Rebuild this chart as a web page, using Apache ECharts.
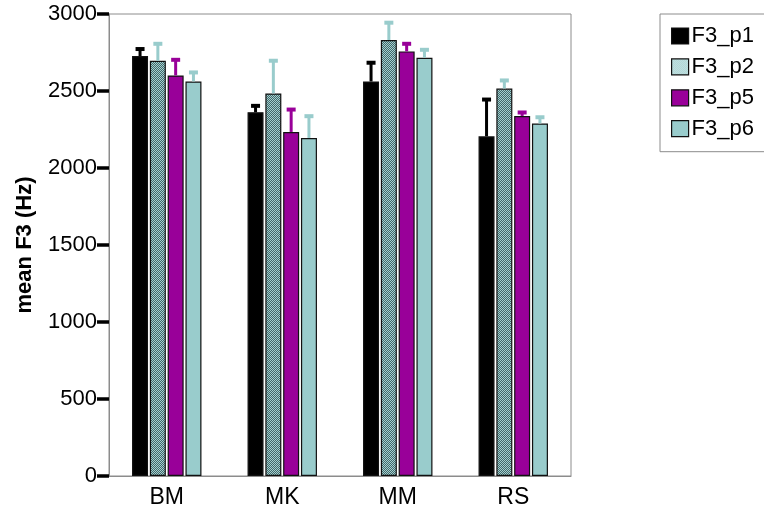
<!DOCTYPE html>
<html>
<head>
<meta charset="utf-8">
<script src="https://cdn.jsdelivr.net/npm/echarts@6/dist/echarts.min.js"></script>
<style>
  html, body { margin: 0; padding: 0; background: #fff; }
  #chart { width: 764px; height: 513px; }
</style>
</head>
<body>
<div id="chart"></div>
<script>
// Speakers on the x axis
var categories = ['BM', 'MK', 'MM', 'RS'];
var seriesNames = ['F3_p1', 'F3_p2', 'F3_p5', 'F3_p6'];

// Mean F3 per speaker (Hz)
var meanP1 = [2727, 2362, 2562, 2206];
var meanP2 = [2696, 2484, 2831, 2516];
var meanP5 = [2601, 2234, 2757, 2338];
var meanP6 = [2562, 2195, 2716, 2289];

// Top of the upper error bar (Hz)
var upperP1 = [2779, 2410, 2690, 2451];
var upperP2 = [2813, 2703, 2950, 2575];
var upperP5 = [2709, 2386, 2813, 2367];
var upperP6 = [2627, 2343, 2774, 2336];

var yTicks = { min: 0, max: 3000, step: 500 };

var means = [meanP1, meanP2, meanP5, meanP6];
var uppers = [upperP1, upperP2, upperP5, upperP6];

// Two-tone checkered fill used for the hatched series
function checker(c1, c2) {
  var cv = document.createElement('canvas');
  cv.width = 2; cv.height = 2;
  var ctx = cv.getContext('2d');
  ctx.fillStyle = c1; ctx.fillRect(0, 0, 2, 2);
  ctx.fillStyle = c2; ctx.fillRect(1, 0, 1, 1); ctx.fillRect(0, 1, 1, 1);
  return { image: cv, repeat: 'repeat' };
}

var barFill = ['#000000', checker('#a4d0d0', '#42686a'), '#990099', '#99cccc'];
var legendFill = ['#000000', checker('#d4ecec', '#9fcccc'), '#990099', '#99cccc'];
var whiskerColor = ['#000000', '#99cccc', '#990099', '#99cccc'];

var BAR_W = 16;
var BAR_GAP = 1.8;

var series = [];
seriesNames.forEach(function (name, i) {
  series.push({
    name: name,
    type: 'bar',
    data: means[i],
    barWidth: BAR_W,
    barGap: (BAR_GAP / BAR_W * 100).toFixed(1) + '%',
    barCategoryGap: '40%',
    itemStyle: { color: barFill[i], borderColor: '#111', borderWidth: 1.2 },
    emphasis: { disabled: true },
    z: 2
  });
});

// Upper error bars, one custom series per group member
seriesNames.forEach(function (name, i) {
  var data = categories.map(function (c, k) { return [k, means[i][k], uppers[i][k]]; });
  series.push({
    type: 'custom',
    name: name + '_err',
    data: data,
    z: 3,
    silent: true,
    renderItem: function (params, api) {
      var k = api.value(0);
      var base = api.coord([k, api.value(1)]);
      var top = api.coord([k, api.value(2)]);
      var pitch = BAR_W + BAR_GAP;
      var x = base[0] + (i - 1.5) * pitch;
      var col = whiskerColor[i];
      return {
        type: 'group',
        children: [
          { type: 'rect', shape: { x: x - 1.5, y: top[1], width: 3, height: base[1] - top[1] },
            style: { fill: col } },
          { type: 'rect', shape: { x: x - 4.5, y: top[1] - 1, width: 9, height: 4 },
            style: { fill: col } }
        ]
      };
    }
  });
});

var chart = echarts.init(document.getElementById('chart'), null, { renderer: 'canvas' });
chart.setOption({
  animation: false,
  backgroundColor: '#ffffff',
  textStyle: { fontFamily: 'Liberation Sans, Arial, sans-serif' },
  grid: {
    left: 109, right: 193, top: 14, bottom: 37,
    show: true, borderColor: '#8c8c8c', borderWidth: 1, backgroundColor: 'transparent'
  },
  legend: {
    orient: 'vertical',
    left: 660, top: 14,
    padding: [11, 30, 12, 11],
    itemWidth: 17, itemHeight: 16, itemGap: 8.9,
    borderColor: '#8c8c8c', borderWidth: 1,
    icon: 'rect',
    selectedMode: false,
    textStyle: { fontSize: 22, color: '#000', padding: [0, 0, 0, -2] },
    data: seriesNames.map(function (n, i) {
      return { name: n, itemStyle: { color: legendFill[i], borderColor: '#111', borderWidth: 1.2 } };
    })
  },
  xAxis: {
    type: 'category',
    data: categories,
    axisLine: { lineStyle: { color: '#8c8c8c', width: 1 } },
    axisTick: { alignWithLabel: true, length: 8, lineStyle: { color: '#000', width: 3 } },
    axisLabel: { fontSize: 23, color: '#000', margin: 10 }
  },
  yAxis: {
    type: 'value',
    min: yTicks.min, max: yTicks.max, interval: yTicks.step,
    name: 'mean F3 (Hz)',
    nameLocation: 'middle',
    nameGap: 73,
    nameTextStyle: { fontSize: 22, fontWeight: 'bold', color: '#000' },
    axisLine: { show: true, lineStyle: { color: '#8c8c8c', width: 1 } },
    axisTick: { show: true, length: 12, lineStyle: { color: '#000', width: 3.5 } },
    axisLabel: { fontSize: 22, color: '#000', margin: 12, formatter: function (v) { return String(v); } },
    splitLine: { show: false }
  },
  series: series
});
</script>
</body>
</html>
